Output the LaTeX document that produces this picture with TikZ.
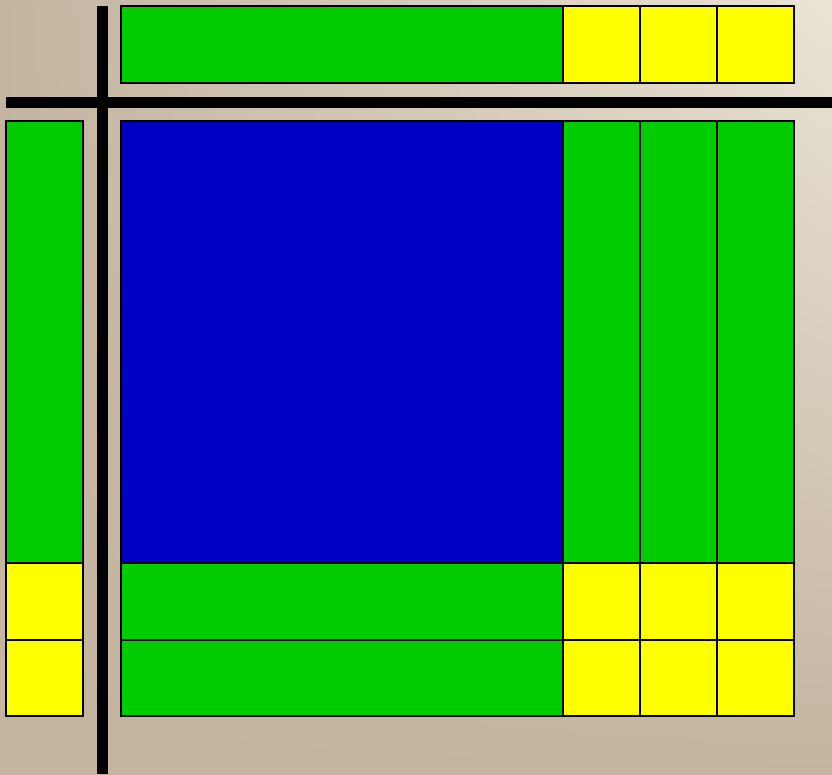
\documentclass[tikz,border=0pt]{standalone}
\usetikzlibrary{shadings}
\begin{document}
\begin{tikzpicture}[x=1pt,y=-1pt,
  tile/.style={draw=black,line width=1.8pt},
  gtile/.style={tile,fill=tgreen},
  ytile/.style={tile,fill=tyellow},
  btile/.style={tile,fill=tblue},
  bar/.style={fill=black}]
\definecolor{tgreen}{RGB}{0,204,0}
\definecolor{tyellow}{RGB}{255,255,0}
\definecolor{tblue}{RGB}{0,0,196}
\definecolor{tan}{RGB}{196,180,160}
\definecolor{light}{RGB}{234,228,214}
\useasboundingbox (0,0) rectangle (832,775);
\shade[upper left=tan,lower left=tan,lower right=tan,upper right=light] (0,0) rectangle (832,775);
% bars
\fill[bar] (97,6) rectangle (108,774);
\fill[bar] (6,97) rectangle (832,108);
% top row
\draw[gtile] (121,6) rectangle (563,83);
\foreach \x in {563,640,717} \draw[ytile] (\x,6) rectangle ++(77,77);
% left column
\draw[gtile] (6,121) rectangle (83,563);
\draw[ytile] (6,563) rectangle (83,640);
\draw[ytile] (6,640) rectangle (83,716);
% blue square
\draw[btile] (121,121) rectangle (563,563);
% right green columns
\foreach \x in {563,640,717} \draw[gtile] (\x,121) rectangle ++(77,442);
% bottom green rows
\draw[gtile] (121,563) rectangle (563,640);
\draw[gtile] (121,640) rectangle (563,716);
% yellow grid
\foreach \x in {563,640,717} {
  \draw[ytile] (\x,563) rectangle ++(77,77);
  \draw[ytile] (\x,640) rectangle ++(77,76);
}
\end{tikzpicture}
\end{document}
